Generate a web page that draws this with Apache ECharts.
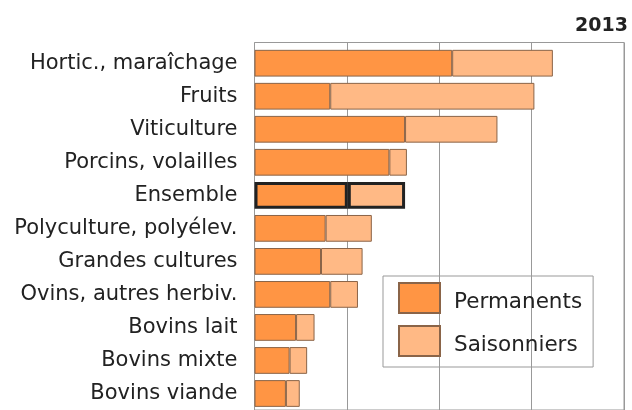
<!DOCTYPE html>
<html><head><meta charset="utf-8">
<script src="https://cdn.jsdelivr.net/npm/echarts@6/dist/echarts.min.js"></script>
<style>html,body{margin:0;padding:0;background:#fff}#c{width:632px;height:410px}</style>
</head><body><div id="c"></div>
<script>
const categories = ["Hortic., maraîchage","Fruits","Viticulture","Porcins, volailles","Ensemble","Polyculture, polyélev.","Grandes cultures","Ovins, autres herbiv.","Bovins lait","Bovins mixte","Bovins viande"];
const permanents = [2.14,0.82,1.63,1.46,1.01,0.77,0.72,0.82,0.45,0.38,0.34];
const saisonniers = [1.09,2.21,1.0,0.19,0.62,0.50,0.45,0.30,0.20,0.19,0.15];
const xTicks = [0,1,2,3,4];
const yearTitle = "2013";
const highlight = "Ensemble";

const chart = echarts.init(document.getElementById('c'), null, {renderer:'canvas'});
const font = "DejaVu Sans, sans-serif";
function mk(vals, color){
  return vals.map((v,i)=> categories[i]===highlight
    ? {value:v, itemStyle:{color:color, borderColor:'#222', borderWidth:3}}
    : {value:v, itemStyle:{color:color, borderColor:'#8a6448', borderWidth:1}});
}
chart.setOption({
  animation:false,
  title:{text:yearTitle, right:-1, top:12, textStyle:{fontFamily:font, fontSize:19, fontWeight:'bold', color:'#222'}},
  grid:[
    {left:254.5, right:8, top:42.5, bottom:-30, show:true, borderColor:'#999', borderWidth:1, backgroundColor:'transparent'},
    {left:254.5, right:8, top:46.7, height:376.2}
  ],
  legend:{
    orient:'vertical', left:383, top:276, itemWidth:41, itemHeight:30, itemGap:11, icon:'rect',
    borderColor:'#999', borderWidth:1, padding:[6,11,10,15],
    formatter:'{a|{name}}',
    textStyle:{fontFamily:font, fontSize:21.5, color:'#222',
      rich:{a:{fontFamily:font, fontSize:21.5, color:'#222', padding:[9,0,0,9]}}},
    data:['Permanents','Saisonniers']
  },
  xAxis:[
    {type:'value', gridIndex:0, min:xTicks[0], max:xTicks[xTicks.length-1], interval:1,
     axisLine:{show:false}, axisTick:{show:false}, axisLabel:{show:false},
     splitLine:{show:true, lineStyle:{color:'#999', width:1}}},
    {type:'value', gridIndex:1, min:xTicks[0], max:xTicks[xTicks.length-1], interval:1, show:false}
  ],
  yAxis:[
    {type:'value', gridIndex:0, show:false},
    {type:'category', gridIndex:1, inverse:true, data:categories,
     axisLine:{show:true, lineStyle:{color:'#999'}}, axisTick:{show:false},
     axisLabel:{fontFamily:font, fontSize:21, color:'#222', margin:17}}
  ],
  series:[
    {name:'Permanents', type:'bar', stack:'a', xAxisIndex:1, yAxisIndex:1, barWidth:'81%', data:mk(permanents,'#ff9544'),
     itemStyle:{color:'#ff9544', borderColor:'#8a6448', borderWidth:1}},
    {name:'Saisonniers', type:'bar', stack:'a', xAxisIndex:1, yAxisIndex:1, barWidth:'81%', data:mk(saisonniers,'#ffb985'),
     itemStyle:{color:'#ffb985', borderColor:'#8a6448', borderWidth:1}}
  ]
});
</script></body></html>
